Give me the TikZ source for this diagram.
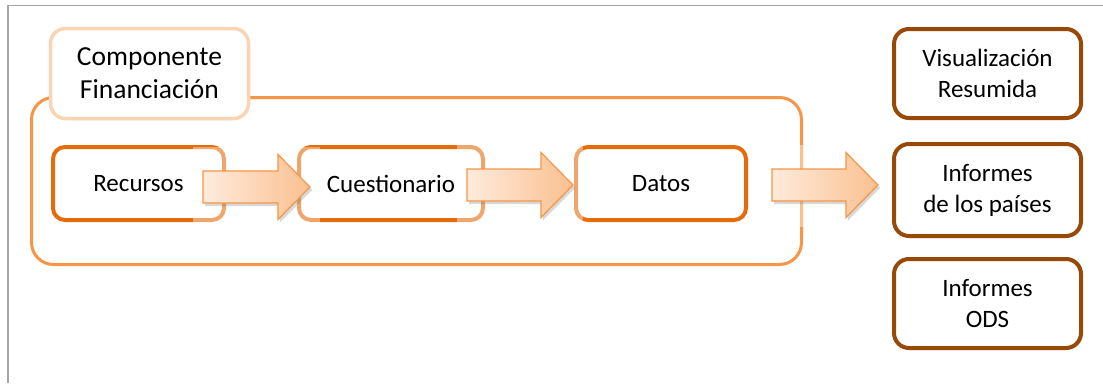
\documentclass[tikz,border=0pt]{standalone}
\usepackage{fontspec}
\setmainfont{Carlito}
\usetikzlibrary{shadows}
\definecolor{frameGray}{HTML}{A6A6A6}
\definecolor{contOrange}{HTML}{F79646}
\definecolor{peach}{HTML}{FBD4B4}
\definecolor{boxOrange}{HTML}{E46C0A}
\definecolor{boxBrown}{HTML}{984807}
\definecolor{arrLight}{HTML}{FEEBDD}
\definecolor{arrDark}{HTML}{FAC090}
\newcommand\blockarr[3]{% start x, tip x, mid y
  \fill[white,opacity=0.4] (#1-10,#3-40) rectangle (#2+10,#3+42);
  \path[draw=contOrange,line width=1.2pt,left color=arrLight,right color=arrDark,
        drop shadow={shadow xshift=2pt,shadow yshift=-3pt,opacity=0.25,fill=black!60}]
    (#1,#3-16) -- (#2-32,#3-16) -- (#2-32,#3-32.5) -- (#2,#3) -- (#2-32,#3+32.5)
    -- (#2-32,#3+16) -- (#1,#3+16) -- cycle;
}
\begin{document}
\begin{tikzpicture}[x=1pt,y=-1pt,
  txt/.style={font=\fontsize{25}{31}\selectfont,align=center,text=black,inner sep=0pt},
  inbox/.style={txt,draw=boxOrange,line width=4pt,rounded corners=12pt,fill=white,
    minimum height=73pt},
  outbox/.style={txt,draw=boxBrown,line width=4pt,rounded corners=15pt,fill=white,
    minimum width=187pt},
  ]
\useasboundingbox (0,0) rectangle (1103,383);
\fill[white] (0,0) rectangle (1103,383);
% frame
\draw[frameGray,line width=1.5pt] (8,383) -- (8,5.5) -- (1103,5.5);
% container
\node[draw=contOrange,line width=3pt,rounded corners=22pt,minimum width=770pt,
  minimum height=167pt,inner sep=0pt] (cont) at (416.5,181) {};
% title
\node[txt,font=\fontsize{27.5}{33}\selectfont,draw=peach,line width=3.5pt,
  rounded corners=15pt,fill=white,
  minimum width=198pt,minimum height=90pt] (comp) at (149.5,73.5)
  {Componente\\Financiación};
% inner boxes
\node[inbox,minimum width=171pt] (rec) at (138.5,183.5) {Recursos};
\node[inbox,minimum width=184pt] (cue) at (391,183.5) {Cuestionario};
\node[inbox,minimum width=170pt] (dat) at (661,183.5) {Datos};
% output boxes
\node[outbox,minimum height=89pt] (vis) at (987.5,73.5) {Visualización\\Resumida};
\node[outbox,minimum height=92pt] (pai) at (987.5,190) {Informes\\de los países};
\node[outbox,minimum height=89pt] (ods) at (987.5,303.5) {Informes\\ODS};
% block arrows
\blockarr{203}{310}{187}
\blockarr{467}{573}{185}
\blockarr{772}{878}{185}
\end{tikzpicture}
\end{document}
